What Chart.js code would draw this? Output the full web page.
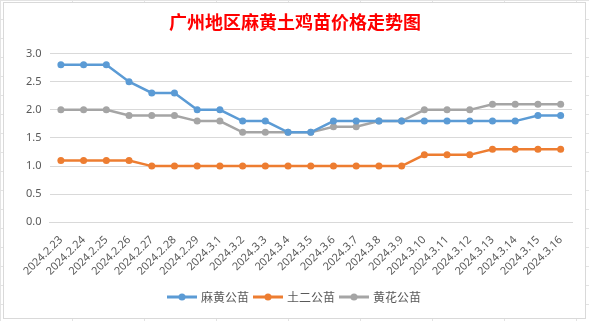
<!DOCTYPE html>
<html lang="zh">
<head>
<meta charset="UTF-8">
<title>广州地区麻黄土鸡苗价格走势图</title>
<script src="https://cdn.jsdelivr.net/npm/chart.js"></script>
<style>
    body {
        margin: 0;
        width: 589px;
        height: 321px;
        overflow: hidden;
        background-color: #fff;
        background-image:
            linear-gradient(to right, #e3e3e3 1px, transparent 1px),
            linear-gradient(to bottom, #e3e3e3 1px, transparent 1px);
        background-size: 72px 19px;
        font-family: "Noto Sans CJK SC", "Noto Sans", sans-serif;
    }
    #box {
        position: absolute;
        left: 3px;
        top: 2px;
        width: 581px;
        height: 315px;
        background: #fff;
        border: 1px solid #d9d9d9;
    }
</style>
</head>
<body>
<div id="box"><canvas id="chart" width="581" height="315"></canvas></div>
<script>
    // dates along the x axis
    const dates = ['2024.2.23', '2024.2.24', '2024.2.25', '2024.2.26', '2024.2.27', '2024.2.28', '2024.2.29',
        '2024.3.1', '2024.3.2', '2024.3.3', '2024.3.4', '2024.3.5', '2024.3.6', '2024.3.7', '2024.3.8',
        '2024.3.9', '2024.3.10', '2024.3.11', '2024.3.12', '2024.3.13', '2024.3.14', '2024.3.15', '2024.3.16'];

    const mahuang = [2.8, 2.8, 2.8, 2.5, 2.3, 2.3, 2.0, 2.0, 1.8, 1.8, 1.6, 1.6, 1.8, 1.8, 1.8, 1.8, 1.8, 1.8, 1.8, 1.8, 1.8, 1.9, 1.9];
    const tuer = [1.1, 1.1, 1.1, 1.1, 1.0, 1.0, 1.0, 1.0, 1.0, 1.0, 1.0, 1.0, 1.0, 1.0, 1.0, 1.0, 1.2, 1.2, 1.2, 1.3, 1.3, 1.3, 1.3];
    const huanghua = [2.0, 2.0, 2.0, 1.9, 1.9, 1.9, 1.8, 1.8, 1.6, 1.6, 1.6, 1.6, 1.7, 1.7, 1.8, 1.8, 2.0, 2.0, 2.0, 2.1, 2.1, 2.1, 2.1];

    const seriesNames = ['麻黄公苗', '土二公苗', '黄花公苗'];
    const colors = ['#5B9BD5', '#ED7D31', '#A5A5A5'];

    // legend marker: short line with a dot, like Excel
    function legendMarker(color) {
        const c = document.createElement('canvas');
        c.width = 30; c.height = 10;
        const g = c.getContext('2d');
        g.strokeStyle = color;
        g.lineWidth = 3;
        g.beginPath(); g.moveTo(0, 5); g.lineTo(30, 5); g.stroke();
        g.fillStyle = color;
        g.beginPath(); g.arc(15, 5, 3.5, 0, Math.PI * 2); g.fill();
        return c;
    }

    const values = [mahuang, tuer, huanghua];
    const datasets = values.map((v, i) => ({
        label: seriesNames[i],
        data: v,
        borderColor: colors[i],
        backgroundColor: colors[i],
        borderWidth: 2.5,
        pointRadius: 3.5,
        pointHoverRadius: 3.5,
        pointBorderWidth: 0,
        tension: 0
    }));

    new Chart(document.getElementById('chart'), {
        type: 'line',
        data: { labels: dates, datasets: datasets },
        options: {
            responsive: false,
            animation: false,
            layout: { padding: { left: 14, right: 13, top: 0, bottom: 5 } },
            plugins: {
                title: {
                    display: true,
                    text: '广州地区麻黄土鸡苗价格走势图',
                    color: '#FF0000',
                    font: { size: 18, weight: 'bold', family: '"Noto Sans CJK SC"' },
                    padding: { top: 8, bottom: 21 }
                },
                legend: {
                    position: 'bottom',
                    labels: {
                        color: '#595959',
                        font: { size: 12, family: '"Noto Sans CJK SC"' },
                        usePointStyle: true,
                        pointStyleWidth: 26,
                        boxWidth: 26,
                        padding: 6,
                        generateLabels(chart) {
                            return chart.data.datasets.map((ds, i) => ({
                                text: ds.label,
                                pointStyle: legendMarker(colors[i]),
                                fontColor: '#595959',
                                strokeStyle: colors[i],
                                fillStyle: colors[i],
                                lineWidth: 0,
                                datasetIndex: i
                            }));
                        }
                    }
                },
                tooltip: { enabled: false }
            },
            scales: {
                x: {
                    offset: true,
                    grid: { display: false },
                    border: { color: '#d9d9d9' },
                    afterFit: scale => { scale.height += 4; },
                    ticks: {
                        color: '#595959',
                        font: { size: 11, family: '"Noto Sans"' },
                        minRotation: 45,
                        maxRotation: 45,
                        autoSkip: false
                    }
                },
                y: {
                    min: 0,
                    max: 3,
                    grid: { color: '#d9d9d9', drawTicks: false },
                    border: { display: false },
                    ticks: {
                        stepSize: 0.5,
                        padding: 8,
                        color: '#595959',
                        font: { size: 11, family: '"Noto Sans"' },
                        callback: v => v.toFixed(1)
                    }
                }
            }
        }
    });
</script>
</body>
</html>
